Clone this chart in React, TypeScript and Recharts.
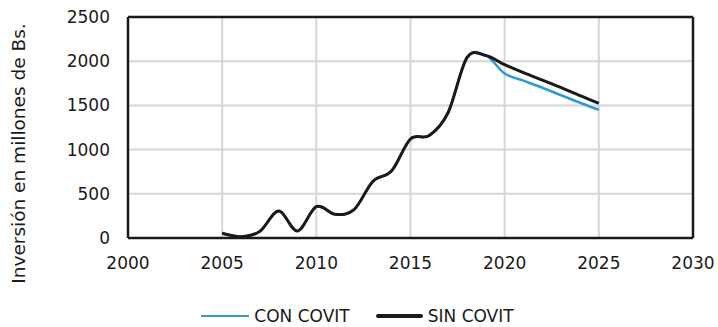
import React from 'react';
import { LineChart, Line, XAxis, YAxis, CartesianGrid, Legend, ReferenceLine } from 'recharts';

const years = [2005, 2006, 2007, 2008, 2009, 2010, 2011, 2012, 2013, 2014, 2015, 2016, 2017, 2018, 2019, 2020, 2021, 2022, 2023, 2024, 2025];
const conCovit = [53, 15, 75, 305, 80, 355, 268, 320, 640, 760, 1120, 1160, 1420, 2040, 2065, 1860, 1780, 1700, 1615, 1530, 1450];
const sinCovit = [53, 15, 75, 305, 80, 355, 268, 320, 640, 760, 1120, 1160, 1420, 2040, 2065, 1960, 1870, 1785, 1700, 1610, 1525];
const xTicks = [2000, 2005, 2010, 2015, 2020, 2025, 2030];
const yTicks = [0, 500, 1000, 1500, 2000, 2500];
const seriesNames = ['CON COVIT', 'SIN COVIT'];
const seriesColors = ['#2f9ad3', '#1a1a1a'];

const data = years.map((y, i) => ({ year: y, con: conCovit[i], sin: sinCovit[i] }));

const FONT = '"DejaVu Sans", sans-serif';

// Excel-like smoothed line (cardinal / Catmull-Rom style Bezier)
function excelSmooth(context: any) {
  let pts: [number, number][] = [];
  return {
    areaStart() {},
    areaEnd() {},
    lineStart() { pts = []; },
    point(x: number, y: number) { pts.push([+x, +y]); },
    lineEnd() {
      const n = pts.length;
      if (!n) return;
      context.moveTo(pts[0][0], pts[0][1]);
      for (let i = 0; i < n - 1; i++) {
        const p0 = pts[Math.max(0, i - 1)];
        const p1 = pts[i];
        const p2 = pts[i + 1];
        const p3 = pts[Math.min(n - 1, i + 2)];
        const c1x = p1[0] + (p2[0] - p0[0]) / 6;
        const c1y = p1[1] + (p2[1] - p0[1]) / 6;
        const c2x = p2[0] - (p3[0] - p1[0]) / 6;
        const c2y = p2[1] - (p3[1] - p1[1]) / 6;
        context.bezierCurveTo(c1x, c1y, c2x, c2y, p2[0], p2[1]);
      }
    },
  };
}

const LegendContent = () => (
  <div style={{ display: 'flex', justifyContent: 'center', alignItems: 'center', height: 34, paddingTop: 12, boxSizing: 'border-box', paddingLeft: 22, fontFamily: FONT, fontSize: 17, color: '#1a1a1a' }}>
    <div style={{ width: 48, height: 2.5, background: seriesColors[0], marginRight: 5 }} />
    <span>{seriesNames[0]}</span>
    <div style={{ width: 47, height: 4, background: seriesColors[1], borderRadius: 2, marginLeft: 26, marginRight: 5 }} />
    <span>{seriesNames[1]}</span>
  </div>
);

const YLabel = (props: any) => {
  const vb = props.viewBox || {};
  const cx = 18;
  const cy = vb.y + vb.height / 2 + 26;
  return (
    <text x={cx} y={cy} transform={`rotate(-90, ${cx}, ${cy})`} textAnchor="middle" dominantBaseline="central" fontFamily={FONT} fontSize={18.5} fill="#1a1a1a">
      Inversión en millones de Bs.
    </text>
  );
};

export default function App() {
  return (
    <div style={{ position: 'absolute', left: 0, top: 0, width: 718, height: 327, background: '#fff' }}>
      <LineChart width={718} height={327} data={data} margin={{ top: 17, right: 25, left: 0, bottom: 0 }}>
        <CartesianGrid stroke="#d6d6d6" strokeWidth={2} />
        <XAxis
          dataKey="year"
          type="number"
          domain={[2000, 2030]}
          ticks={xTicks}
          height={55}
          tickLine={false}
          tickSize={6}
          tickMargin={13}
          axisLine={{ stroke: '#1a1a1a', strokeWidth: 2.5 }}
          tick={{ fontFamily: FONT, fontSize: 17, fill: '#1a1a1a' }}
        />
        <YAxis
          type="number"
          domain={[0, 2500]}
          ticks={yTicks}
          width={128}
          tickLine={false}
          tickSize={6}
          tickMargin={12}
          axisLine={{ stroke: '#1a1a1a', strokeWidth: 2.5 }}
          tick={{ fontFamily: FONT, fontSize: 17, fill: '#1a1a1a' }}
          label={<YLabel />}
        />
        <ReferenceLine y={2500} stroke="#1a1a1a" strokeWidth={2.5} />
        <ReferenceLine x={2030} stroke="#1a1a1a" strokeWidth={2.5} />
        <Legend verticalAlign="bottom" content={<LegendContent />} />
        <Line type={excelSmooth as any} dataKey="con" name={seriesNames[0]} stroke={seriesColors[0]} strokeWidth={2.5} dot={false} isAnimationActive={false} />
        <Line type={excelSmooth as any} dataKey="sin" name={seriesNames[1]} stroke={seriesColors[1]} strokeWidth={3} dot={false} isAnimationActive={false} />
      </LineChart>
    </div>
  );
}
